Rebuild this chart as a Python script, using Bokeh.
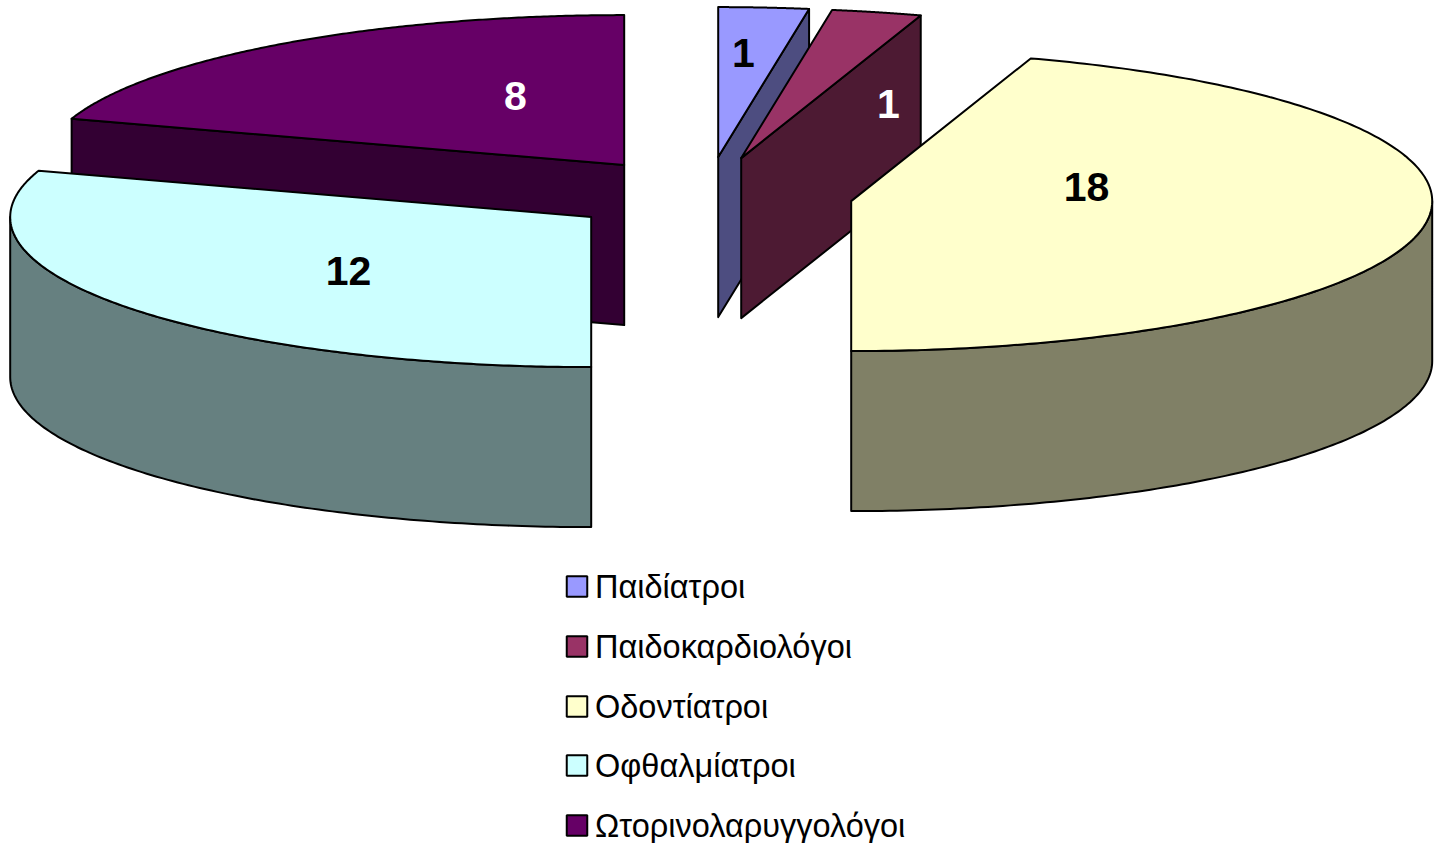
import numpy as np
from bokeh.core.properties import value
from bokeh.embed import file_html
from bokeh.models import ColumnDataSource, Range1d
from bokeh.plotting import figure
from bokeh.resources import INLINE

# Data
categories = ["Παιδίατροι", "Παιδοκαρδιολόγοι", "Οδοντίατροι", "Οφθαλμίατροι", "Ωτορινολαρυγγολόγοι"]
values = [1, 1, 18, 12, 8]

# Styles
top_colors = ["#9999FF", "#993366", "#FFFFCC", "#CCFFFF", "#660066"]
side_colors = ["#4D4D80", "#4D1A33", "#808066", "#668080", "#330033"]
label_colors = ["black", "white", "black", "black", "white"]

# Layout, in reference pixels
centers = [(717.7, 156.6), (740.7, 157.6), (850.7, 200.6), (590.7, 216.6), (623.7, 164.6)]
label_pos = [(743, 52.5), (888, 103.5), (1086, 186.5), (348, 270.5), (515, 95.5)]
RX, RY, DEPTH = 581, 150, 160
legend_x, legend_ys = 576.5, [586, 646, 706, 765, 825]

W, H = 1439, 843
p = figure(width=W, height=H, output_backend="svg", toolbar_location=None,
           x_range=Range1d(0, W), y_range=Range1d(H, 0),
           min_border=0, outline_line_color=None, border_fill_color="white",
           background_fill_color="white")
p.xaxis.visible = False
p.yaxis.visible = False
p.grid.visible = False

total = sum(values)
cum = np.cumsum([0] + values) / total * 2 * np.pi


def rim(c, t):
    return c[0] + RX * np.sin(t), c[1] - RY * np.cos(t)


LINE = dict(line_color="black", line_width=2, line_join="round")


def draw_slice(i):
    a0, a1 = cum[i], cum[i + 1]
    c = centers[i]
    # radial cut faces that look towards the viewer
    for a in (a0, a1):
        is_front = (a == a1 and np.sin(a) > 0 and np.cos(a) > 0) or (a == a0 and np.sin(a) < 0 and np.cos(a) > 0)
        if is_front:
            x, y = rim(c, a)
            p.patch([c[0], x, x, c[0]], [c[1], y, y + DEPTH, c[1] + DEPTH],
                    fill_color=side_colors[i], **LINE)
    # outer wall: the part of the rim on the near half
    lo, hi = max(a0, np.pi / 2), min(a1, 3 * np.pi / 2)
    if lo < hi:
        t = np.linspace(lo, hi, 120)
        x, y = rim(c, t)
        p.patch(np.r_[x, x[::-1]], np.r_[y, y[::-1] + DEPTH],
                fill_color=side_colors[i], **LINE)
    # top face
    t = np.linspace(a0, a1, 200)
    x, y = rim(c, t)
    p.patch(np.r_[c[0], x], np.r_[c[1], y], fill_color=top_colors[i], **LINE)


for i in [0, 4, 1, 2, 3]:
    draw_slice(i)

FONT = value("Liberation Sans")
p.text([q[0] for q in label_pos], [q[1] for q in label_pos], text=[str(v) for v in values],
       text_color=label_colors, text_font=FONT, text_font_style="bold",
       text_font_size="41px", text_align="center", text_baseline="middle")

src = ColumnDataSource(dict(x=[legend_x] * 5, tx=[594.5] * 5, y=legend_ys, name=categories, c=top_colors))
p.scatter("x", "y", source=src, marker="square", size=20.5, fill_color="c",
          line_color="black", line_width=2)
p.text("tx", "y", text="name", source=src, text_font=FONT, text_font_size="32.5px",
       text_color="black", text_align="left", text_baseline="middle")

open("out.html", "w").write(file_html(p, INLINE))
